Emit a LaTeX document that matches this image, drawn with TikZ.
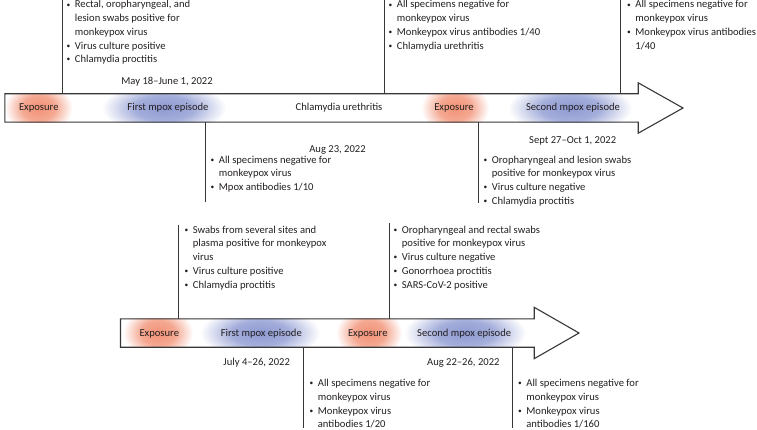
\documentclass[tikz,border=0pt]{standalone}
\usepackage{fontspec}
\setmainfont{Carlito}
\usetikzlibrary{positioning, calc}

\definecolor{exporange}{RGB}{242,146,118}
\definecolor{mpoxblue}{RGB}{142,154,210}
\definecolor{inkgray}{RGB}{35,31,32}
\definecolor{linegray}{RGB}{55,55,55}
\colorlet{exporangemid}{exporange!80!white}
\colorlet{mpoxbluemid}{mpoxblue!80!white}

% soft glows behind the bar labels
\pgfdeclareradialshading{gloworange}{\pgfpoint{0bp}{0bp}}{color(0bp)=(exporange); color(12bp)=(exporangemid); color(25bp)=(white); color(50bp)=(white)}
\pgfdeclareradialshading{glowblue}{\pgfpoint{0bp}{0bp}}{color(0bp)=(mpoxblue); color(12bp)=(mpoxbluemid); color(25bp)=(white); color(50bp)=(white)}

\newcommand{\bul}{\raisebox{0.8pt}{\scalebox{0.7}{\textbullet}}}
\newcommand{\blist}[1]{\begin{tabular}[t]{@{}l@{\hspace{4.5pt}}l@{}}#1\end{tabular}}

\begin{document}
\begin{tikzpicture}[
    x=1pt, y=-1pt,
    txt/.style={font=\fontsize{10.6}{13.7}\selectfont, text=inkgray, inner sep=0pt},
    note/.style={txt, anchor=base west},
    datelabel/.style={txt, anchor=base},
    barlabel/.style={txt, anchor=base},
    barline/.style={draw=linegray, line width=1.1pt, line join=miter},
    tick/.style={draw=linegray, line width=0.9pt}
]
    \useasboundingbox (0,0) rectangle (757,430);

    % --- TOP TIMELINE ---
    \node[inner sep=0pt, minimum width=633pt, minimum height=28pt] (bar1) at (321.5,108) {};
    \begin{scope}
        \clip (bar1.north west) rectangle (bar1.south east);
        \foreach \xx/\rx/\sh in {38.5/34/gloworange, 164/62/glowblue, 455/34/gloworange, 570/62/glowblue}
            \shade[shading=\sh] (\xx,108) ellipse ({\rx pt} and 26pt);
    \end{scope}
    \draw[barline] (bar1.north west) -- (bar1.north east) -- ++(0,-11) -- (683,108)
        -- ($(bar1.south east)+(0,11)$) -- (bar1.south east) -- (bar1.south west) -- cycle;

    \foreach \name/\xx/\lbl in {e1/38.8/Exposure, m1/168/First mpox episode, u1/339/Chlamydia urethritis,
                                e2/454/Exposure, m2/573/Second mpox episode}
        \node[barlabel] (t-\name) at (\xx,111) {\lbl};

    % ticks above and below the bar
    \foreach \name/\xx in {v1/62.7, v2/384, v3/620.7} {
        \coordinate (\name) at (\xx,0);
        \draw[tick] (\name) -- (\name |- bar1.north);
    }
    \coordinate (w1) at (205.7,202);
    \coordinate (w2) at (478,203);
    \draw[tick] (w1 |- bar1.south) -- (w1);
    \draw[tick] (w2 |- bar1.south) -- (w2);

    % notes
    \node[note] (nA) at (66.5,8) {\blist{\bul & Rectal, oropharyngeal, and\\ & lesion swabs positive for\\ & monkeypox virus\\ \bul & Virus culture positive\\ \bul & Chlamydia proctitis}};
    \node[datelabel] (dA) at (167,85) {May 18–June 1, 2022};
    \node[note] (nB) at (388.5,8) {\blist{\bul & All specimens negative for\\ & monkeypox virus\\ \bul & Monkeypox virus antibodies 1/40\\ \bul & Chlamydia urethritis}};
    \node[note] (nC) at (627,8) {\blist{\bul & All specimens negative for\\ & monkeypox virus\\ \bul & Monkeypox virus antibodies\\ & 1/40}};
    \node[datelabel] (dB) at (337.5,152.7) {Aug 23, 2022};
    \node[note] (nD) at (210.5,163.3) {\blist{\bul & All specimens negative for\\ & monkeypox virus\\ \bul & Mpox antibodies 1/10}};
    \node[datelabel] (dC) at (572.7,143.3) {Sept 27–Oct 1, 2022};
    \node[note] (nE) at (483.5,163.3) {\blist{\bul & Oropharyngeal and lesion swabs\\ & positive for monkeypox virus\\ \bul & Virus culture negative\\ \bul & Chlamydia proctitis}};

    % --- BOTTOM TIMELINE ---
    \node[inner sep=0pt, minimum width=413.3pt, minimum height=28pt] (bar2) at (327.35,333) {};
    \begin{scope}
        \clip (bar2.north west) rectangle (bar2.south east);
        \foreach \xx/\rx/\sh in {158/35/gloworange, 260/60/glowblue, 369/33/gloworange, 465/61/glowblue}
            \shade[shading=\sh] (\xx,333) ellipse ({\rx pt} and 26pt);
    \end{scope}
    \draw[barline] (bar2.north west) -- (bar2.north east) -- ++(0,-11.5) -- (579,333)
        -- ($(bar2.south east)+(0,11.5)$) -- (bar2.south east) -- (bar2.south west) -- cycle;

    \foreach \name/\xx/\lbl in {e3/159.3/Exposure, m3/261.3/First mpox episode,
                                e4/367.8/Exposure, m4/464.2/Second mpox episode}
        \node[barlabel] (t-\name) at (\xx,336) {\lbl};

    \coordinate (v4) at (178.3,225);
    \coordinate (v5) at (389,223);
    \draw[tick] (v4) -- (v4 |- bar2.north);
    \draw[tick] (v5) -- (v5 |- bar2.north);
    \coordinate (w3) at (303.7,428);
    \coordinate (w4) at (512.7,428);
    \draw[tick] (w3 |- bar2.south) -- (w3);
    \draw[tick] (w4 |- bar2.south) -- (w4);

    \node[note] (nF) at (184.5,233.3) {\blist{\bul & Swabs from several sites and\\ & plasma positive for monkeypox\\ & virus\\ \bul & Virus culture positive\\ \bul & Chlamydia proctitis}};
    \node[note] (nG) at (393.5,233.3) {\blist{\bul & Oropharyngeal and rectal swabs\\ & positive for monkeypox virus\\ \bul & Virus culture negative\\ \bul & Gonorrhoea proctitis\\ \bul & SARS-CoV-2 positive}};
    \node[datelabel] (dD) at (256.7,365) {July 4–26, 2022};
    \node[note] (nH) at (309.5,386.7) {\blist{\bul & All specimens negative for\\ & monkeypox virus\\ \bul & Monkeypox virus\\ & antibodies 1/20}};
    \node[datelabel] (dE) at (463.3,365) {Aug 22–26, 2022};
    \node[note] (nI) at (518,386.7) {\blist{\bul & All specimens negative for\\ & monkeypox virus\\ \bul & Monkeypox virus\\ & antibodies 1/160}};

\end{tikzpicture}
\end{document}
